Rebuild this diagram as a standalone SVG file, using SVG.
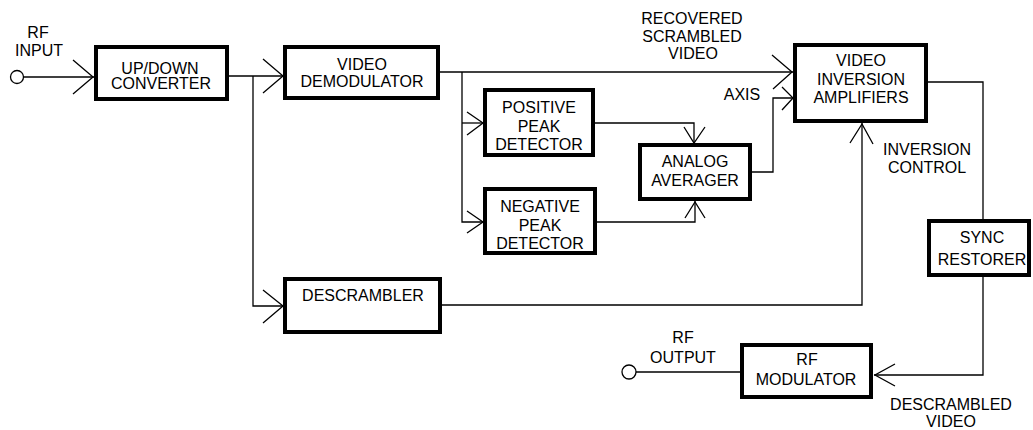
<svg xmlns="http://www.w3.org/2000/svg" width="1033" height="430" viewBox="0 0 1033 430">
<style>
.box{fill:#fff;stroke:#000;stroke-width:4}
.wire{fill:none;stroke:#000;stroke-width:1.3}
text{font-family:"Liberation Sans",Arial,sans-serif;font-size:16px;text-anchor:middle;fill:#000}
</style>
<rect width="1033" height="430" fill="#fff"/>
<g id="connectors">
<circle class="wire" cx="17" cy="77" r="6.5"/>
<polyline class="wire" points="23.5,77 94,77"/>
<polyline class="wire" points="73,60 93,77 73,94"/>
<polyline class="wire" points="229,76 283,76"/>
<polyline class="wire" points="263,59 283,76 263,93"/>
<polyline class="wire" points="253,76 253,306 283,306"/>
<polyline class="wire" points="263,290 283,306 263,323"/>
<polyline class="wire" points="440,72 793,72"/>
<polyline class="wire" points="772,55 792,72 773,89"/>
<polyline class="wire" points="462,72 462,222 483,222"/>
<polyline class="wire" points="462,123 483,123"/>
<polyline class="wire" points="467,112 483,123 467,135"/>
<polyline class="wire" points="467,211 483,222 467,233"/>
<polyline class="wire" points="595,123 694,123 694,143"/>
<polyline class="wire" points="684,127 694,143 705,127"/>
<polyline class="wire" points="597,222 695,222 695,201"/>
<polyline class="wire" points="685,218 695,202 705,218"/>
<polyline class="wire" points="752,172 773,172 773,98 793,98"/>
<polyline class="wire" points="782,87 793,98 782,110"/>
<polyline class="wire" points="928,82 983,82 983,219"/>
<polyline class="wire" points="983,277 983,375 874,375"/>
<polyline class="wire" points="895,364 875,375 895,386"/>
<polyline class="wire" points="442,305 862,305 862,123"/>
<polyline class="wire" points="850,143 862,124 873,144"/>
<polyline class="wire" points="740,372 636,372"/>
<circle class="wire" cx="629" cy="372" r="7"/>
</g>
<g id="updown">
<rect class="box" x="96" y="47" width="131" height="52"/>
<text x="160" y="74">UP/DOWN</text>
<text x="161" y="89">CONVERTER</text>
</g>
<g id="videodemod">
<rect class="box" x="285" y="47" width="153" height="51"/>
<text x="362" y="70">VIDEO</text>
<text x="362" y="87">DEMODULATOR</text>
</g>
<g id="posdet">
<rect class="box" x="485" y="90" width="108" height="65"/>
<text x="539" y="113">POSITIVE</text>
<text x="539" y="132">PEAK</text>
<text x="539" y="150">DETECTOR</text>
</g>
<g id="negdet">
<rect class="box" x="485" y="189" width="110" height="64"/>
<text x="540" y="212">NEGATIVE</text>
<text x="540" y="231">PEAK</text>
<text x="540" y="249">DETECTOR</text>
</g>
<g id="averager">
<rect class="box" x="640" y="145" width="110" height="54"/>
<text x="695" y="167">ANALOG</text>
<text x="695" y="186">AVERAGER</text>
</g>
<g id="inversion">
<rect class="box" x="795" y="45" width="131" height="76"/>
<text x="861" y="66">VIDEO</text>
<text x="861" y="85">INVERSION</text>
<text x="861" y="103">AMPLIFIERS</text>
</g>
<g id="descrambler">
<rect class="box" x="285" y="279" width="155" height="53"/>
<text x="363" y="301">DESCRAMBLER</text>
</g>
<g id="sync">
<rect class="box" x="929" y="221" width="100" height="54"/>
<text x="982" y="243">SYNC</text>
<text x="982" y="265">RESTORER</text>
</g>
<g id="rfmod">
<rect class="box" x="742" y="345" width="129" height="52"/>
<text x="807" y="365">RF</text>
<text x="806" y="385">MODULATOR</text>
</g>
<g id="labels">
<text x="38" y="38">RF</text>
<text x="39" y="56">INPUT</text>
<text x="692" y="24">RECOVERED</text>
<text x="692" y="42">SCRAMBLED</text>
<text x="693" y="59">VIDEO</text>
<text x="742" y="100">AXIS</text>
<text x="927" y="155">INVERSION</text>
<text x="927" y="173">CONTROL</text>
<text x="683" y="343">RF</text>
<text x="683" y="363">OUTPUT</text>
<text x="951" y="410">DESCRAMBLED</text>
<text x="951" y="427">VIDEO</text>
</g>
</svg>
